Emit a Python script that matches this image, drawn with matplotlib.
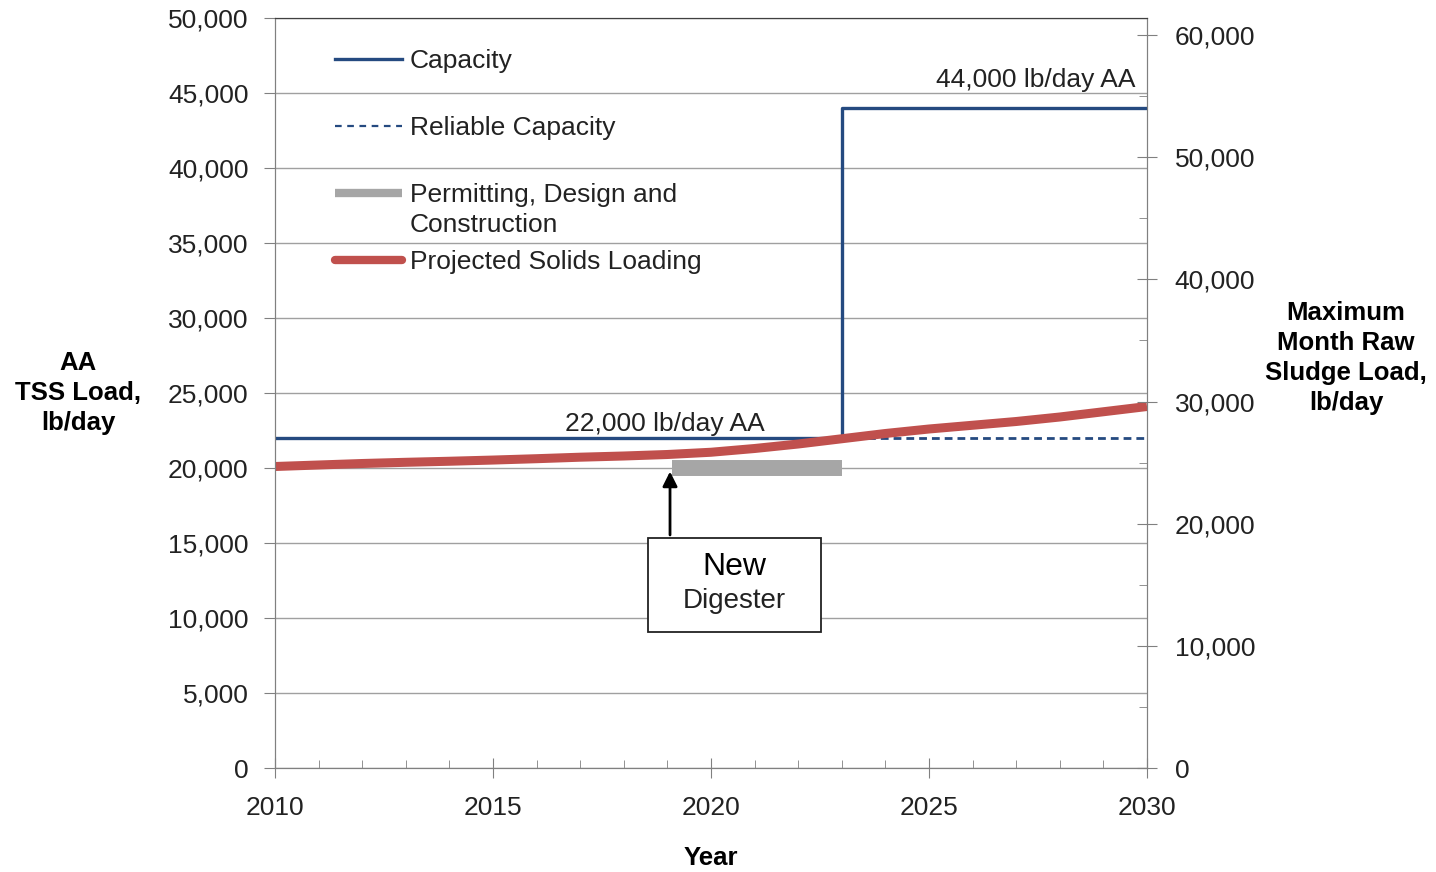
import matplotlib
matplotlib.use("Agg")
import matplotlib.pyplot as plt
from matplotlib.lines import Line2D
from matplotlib.patches import Rectangle
from matplotlib.ticker import FuncFormatter, MultipleLocator

plt.rcParams["font.family"] = ["Liberation Sans", "DejaVu Sans"]

# ---- data ----
years = [2010, 2011, 2012, 2013, 2014, 2015, 2016, 2017, 2018, 2019, 2020,
         2021, 2022, 2023, 2024, 2025, 2026, 2027, 2028, 2029, 2030]
projected_load = [20100, 20200, 20300, 20380, 20450, 20530, 20620, 20720, 20800, 20900, 21050,
                  21300, 21600, 21950, 22300, 22600, 22850, 23100, 23400, 23750, 24100]

capacity_years = [2010, 2023, 2023, 2030]
capacity_vals = [22000, 22000, 44000, 44000]

reliable_years = [2023, 2030]
reliable_vals = [22000, 22000]

permit_years = [2019.1, 2023]
permit_vals = [20000, 20000]

mm_factor = 1.228  # max month / annual average, from the right axis scale

NAVY = "#254a80"
RED = "#c0504d"
GRAY = "#a6a6a6"
GRID = "#a0a0a0"
FS = 19
FSB = 18.5

fig = plt.figure(figsize=(14.36, 8.72), dpi=100)
ax = fig.add_axes([275 / 1436, 1 - 768 / 872, 872 / 1436, 750 / 872])

ax.plot(permit_years, permit_vals, color=GRAY, lw=11.5, solid_capstyle="butt", zorder=3)
ax.plot(capacity_years, capacity_vals, color=NAVY, lw=2.4, zorder=4)
ax.plot(reliable_years, reliable_vals, color=NAVY, lw=2.0, ls=(0, (2.8, 1.8)), zorder=4)
ax.plot(years, projected_load, color=RED, lw=6.5, solid_capstyle="butt", zorder=5)

ax.set_xlim(2010, 2030)
ax.set_ylim(0, 50000)
ax.yaxis.set_major_locator(MultipleLocator(5000))
ax.xaxis.set_major_locator(MultipleLocator(5))
ax.xaxis.set_minor_locator(MultipleLocator(1))
ax.yaxis.set_major_formatter(FuncFormatter(lambda v, p: f"{v:,.0f}"))
ax.grid(axis="y", color=GRID, lw=1.0)
ax.set_axisbelow(True)

ax.tick_params(axis="y", which="major", direction="out", length=8, color="#808080",
               labelsize=FS, pad=11, labelcolor="#222222")
ax.tick_params(axis="x", which="major", direction="inout", length=14, color="#808080",
               labelsize=FS, pad=13, labelcolor="#222222")
ax.tick_params(axis="x", which="minor", direction="in", length=6, color="#808080")
for s in ["left", "bottom", "right"]:
    ax.spines[s].set_color("#808080")
ax.spines["top"].set_color("#404040")

ax2 = ax.twinx()
ax2.set_ylim(0, 50000 * mm_factor)
ax2.yaxis.set_major_locator(MultipleLocator(10000))
ax2.yaxis.set_minor_locator(MultipleLocator(5000))
ax2.yaxis.set_major_formatter(FuncFormatter(lambda v, p: f"{v:,.0f}"))
ax2.tick_params(axis="y", which="major", direction="inout", length=14, color="#808080",
                labelsize=FS, pad=13, labelcolor="#222222")
ax2.tick_params(axis="y", which="minor", direction="in", length=6, color="#808080")
for s in ["left", "bottom", "right"]:
    ax2.spines[s].set_color("#808080")
ax2.spines["top"].set_color("#404040")

# axis titles
fig.text(78 / 1436, 1 - 393 / 872, "AA\nTSS Load,\nlb/day", ha="center", va="center",
         fontsize=FSB, fontweight="bold", linespacing=1.3)
fig.text(1346 / 1436, 1 - 358 / 872, "Maximum\nMonth Raw\nSludge Load,\nlb/day", ha="center",
         va="center", fontsize=FSB, fontweight="bold", linespacing=1.3)
fig.text(711 / 1436, 1 - 858 / 872, "Year", ha="center", va="center", fontsize=FSB,
         fontweight="bold")

# value labels
ax.text(2018.95, 22950, "22,000 lb/day AA", ha="center", va="center", fontsize=FS, color="#222222")
ax.text(2027.45, 45900, "44,000 lb/day AA", ha="center", va="center", fontsize=FS, color="#222222")

# new digester callout
ax.add_patch(Rectangle((2018.56, 9100), 3.96, 6250, facecolor="white", edgecolor="#222222",
                       lw=1.3, zorder=6))
ax.text(2020.54, 13400, "New", ha="center", va="center", fontsize=23, zorder=7)
ax.text(2020.54, 11150, "Digester", ha="center", va="center", fontsize=20, color="#222222", zorder=7)
ax.annotate("", xy=(2019.06, 19950), xytext=(2019.06, 15350),
            arrowprops=dict(arrowstyle="-|>", color="black", lw=2, mutation_scale=22), zorder=7)

# legend drawn by hand to keep the wrapped label layout
hx = [0.0688, 0.1456]
tx = 0.1548
items = [
    (0.9453, "Capacity", dict(color=NAVY, lw=2.4)),
    (0.856, "Reliable Capacity", dict(color=NAVY, lw=1.6, ls=(0, (3, 2.5)))),
    (0.7667, "Permitting, Design and", dict(color=GRAY, lw=6, solid_capstyle="butt")),
    (0.6773, "Projected Solids Loading", dict(color=RED, lw=6, solid_capstyle="round")),
]
for yy, label, style in items:
    ax.add_line(Line2D(hx, [yy, yy], transform=ax.transAxes, zorder=8, **style))
    ax.text(tx, yy - 0.003, label, transform=ax.transAxes, ha="left", va="center", fontsize=FS,
            color="#222222", zorder=8)
ax.text(tx, 0.7237, "Construction", transform=ax.transAxes, ha="left", va="center",
        fontsize=FS, color="#222222", zorder=8)

fig.savefig("out.png", dpi=100)
